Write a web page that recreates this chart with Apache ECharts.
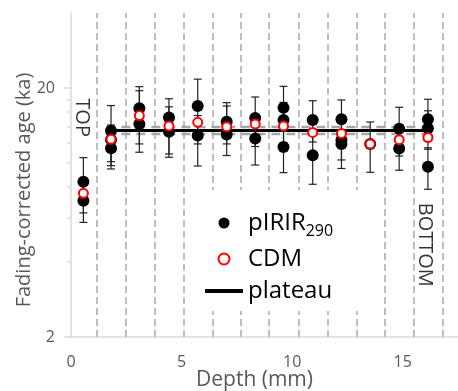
<!DOCTYPE html>
<html><head><meta charset="utf-8">
<script src="https://cdn.jsdelivr.net/npm/echarts@6/dist/echarts.min.js"></script>
<style>html,body{margin:0;padding:0;background:#fff}#c{width:458px;height:391px}</style>
</head><body><div id="c"></div>
<script>
// slice centre depths (mm) and slice boundaries (mm)
const sliceDepth = [0.56, 1.81, 3.09, 4.43, 5.73, 7.04, 8.33, 9.61, 10.93, 12.23, 13.53, 14.84, 16.14];
const sliceBounds = [1.16, 2.48, 3.77, 5.08, 6.39, 7.69, 8.96, 10.30, 11.6, 12.9, 14.2, 15.49, 16.79];
// pIRIR290 aliquots: slice index, age (ka), lower and upper error bar ends (ka)
const aliquotSlice = [0,0, 1,1,1, 2,2, 3,3, 4,4, 5,5, 6,6, 7,7,7, 8,8, 9,9,9, 10, 11,11, 12,12,12];
const aliquotAge   = [8.41,7.05, 13.48,12.4,11.45, 16.58,14.34, 15.22,13.35, 16.93,12.89, 14.64,13.02, 15.16,12.53, 16.67,14.88,11.59, 14.88,10.74, 14.97,12.37,11.92, 11.92, 13.73,11.43, 14.97,13.77,9.66];
const aliquotLow   = [6.3,5.77, 10.12,9.75,9.46, 11.92,11.04, 10.54,10.86, 11.92,9.72, 10.71,11.92, 11.64,9.81, 13.4,12.0,9.14, 12.14,8.21, 12.4,9.5,10.28, 9.17, 10.66,9.35, 12.5,11.35,7.84];
const aliquotHigh  = [10.5,8.33, 17.0,14.2,13.4, 20.24,19.5, 18.1,16.8, 21.7,15.5, 17.46,16.93, 18.4,15.2, 20.3,17.5,14.0, 17.77,13.3, 17.9,14.9,13.6, 14.6, 16.73,13.5, 18.02,16.2,11.5];
// CDM age per slice
const cdmAge = [7.55, 12.44, 15.5, 14.08, 14.56, 13.98, 14.34, 14.08, 13.26, 13.14, 11.92, 12.40, 12.65];
// plateau
const plateauAge = 13.5, plateauLow = 13.08, plateauHigh = 13.93;
const plateauFrom = 1.6, plateauTo = 16.25;
// axis ticks
const yLabelValues = [2, 20];
const yMinorTicks = [4, 6, 8, 10, 12, 14, 16, 18];
// annotations
const noteText = ['TOP', 'BOTTOM'];
const noteDepth = [0.5, 16.0];
const noteAge = [15.2, 4.69];

const FONT = 'Open Sans';
const chart = echarts.init(document.getElementById('c'));

const aliquotPoints = aliquotAge.map((a, i) => [sliceDepth[aliquotSlice[i]], a]);
const errorData = aliquotAge.map((a, i) => [sliceDepth[aliquotSlice[i]], aliquotLow[i], aliquotHigh[i]]);
const cdmPoints = cdmAge.map((a, i) => [sliceDepth[i], a]);
const notePoints = noteText.map((t, i) => ({value: [noteDepth[i], noteAge[i]], name: t}));

chart.setOption({
  animation: false,
  grid: {left: 71, right: 0, top: 13, bottom: 54, outerBoundsMode: 'none', containLabel: false},
  legend: {
    data: ['pIRIR290', 'CDM', {name: 'plateau', itemStyle: {opacity: 0}, lineStyle: {width: 4, color: '#000'}}],
    orient: 'vertical',
    left: 200, top: 190,
    backgroundColor: '#fff',
    padding: [21, 30, 8, 3],
    itemWidth: 38, itemHeight: 11, itemGap: 8,
    formatter: n => n === 'pIRIR290' ? '{m|pIRIR}{s|290}' : '{m|' + n + '}',
    textStyle: {
      rich: {
        m: {fontFamily: FONT, fontSize: 24, color: '#000', lineHeight: 32},
        s: {fontFamily: FONT, fontSize: 16, color: '#000', lineHeight: 17, verticalAlign: 'bottom'}
      }
    }
  },
  xAxis: {
    type: 'value', min: 0, max: 17.5, interval: 5,
    axisLine: {onZero: false, lineStyle: {color: '#d9d9d9', width: 1.5}},
    axisTick: {show: false},
    splitLine: {show: false},
    axisLabel: {showMaxLabel: false, color: '#595959', fontSize: 16, fontFamily: FONT, margin: 17},
    name: 'Depth (mm)', nameLocation: 'middle', nameGap: 33, nameMoveOverlap: false,
    nameTextStyle: {color: '#595959', fontSize: 21, fontFamily: FONT, padding: [0, 20, 0, 0]}
  },
  yAxis: [{
    type: 'log', logBase: 10, min: 2, max: 40,
    axisLine: {show: true, lineStyle: {color: '#d9d9d9', width: 1.5}},
    axisTick: {show: true, customValues: yLabelValues, length: 7, lineStyle: {color: '#d9d9d9', width: 1.5}},
    axisLabel: {customValues: yLabelValues, color: '#595959', fontSize: 16, fontFamily: FONT, margin: 16},
    splitLine: {show: false},
    name: 'Fading-corrected age (ka)', nameLocation: 'middle', nameGap: 37, nameRotate: 90, nameMoveOverlap: false,
    nameTextStyle: {color: '#595959', fontSize: 20, fontFamily: FONT, padding: [0, 30, 0, 0]}
  }, {
    type: 'log', logBase: 10, min: 2, max: 40, position: 'left',
    axisLine: {show: false},
    axisTick: {show: true, customValues: yMinorTicks, length: 4, lineStyle: {color: '#d9d9d9', width: 1.5}},
    axisLabel: {show: false},
    splitLine: {show: false}
  }],
  series: [
    {
      name: 'plateauLo', type: 'line', symbol: 'none', z: 2, silent: true,
      data: [[plateauFrom, plateauLow], [plateauTo, plateauLow]],
      lineStyle: {color: '#a6a6a6', width: 2.5, type: [9, 6]},
      markLine: {
        silent: true, z: 1, symbol: ['none', 'none'], label: {show: false},
        lineStyle: {color: '#bfbfbf', width: 2, type: [7, 4]},
        data: sliceBounds.map(b => ({xAxis: b}))
      }
    },
    {
      name: 'plateauHi', type: 'line', symbol: 'none', z: 2, silent: true,
      data: [[plateauFrom, plateauHigh], [plateauTo, plateauHigh]],
      lineStyle: {color: '#a6a6a6', width: 2.5, type: [9, 6]}
    },
    {
      name: 'plateau', type: 'line', symbol: 'none', z: 3,
      data: [[plateauFrom, plateauAge], [plateauTo, plateauAge]],
      lineStyle: {color: '#000', width: 3}, itemStyle: {color: '#000'}
    },
    {
      name: 'errors', type: 'custom', z: 4, silent: true,
      data: errorData,
      encode: {x: 0, y: [1, 2]},
      renderItem: (params, api) => {
        const x = api.value(0);
        const p1 = api.coord([x, api.value(1)]);
        const p2 = api.coord([x, api.value(2)]);
        const cap = 4;
        const st = {stroke: '#222', lineWidth: 1.2};
        return {type: 'group', children: [
          {type: 'line', shape: {x1: p1[0], y1: p1[1], x2: p2[0], y2: p2[1]}, style: st},
          {type: 'line', shape: {x1: p1[0] - cap, y1: p1[1], x2: p1[0] + cap, y2: p1[1]}, style: st},
          {type: 'line', shape: {x1: p2[0] - cap, y1: p2[1], x2: p2[0] + cap, y2: p2[1]}, style: st}
        ]};
      }
    },
    {
      name: 'pIRIR290', type: 'scatter', z: 5, symbol: 'circle', symbolSize: 12,
      data: aliquotPoints, itemStyle: {color: '#000', opacity: 1}
    },
    {
      name: 'CDM', type: 'scatter', z: 6, symbol: 'circle', symbolSize: 9,
      data: cdmPoints, itemStyle: {color: '#fff', borderColor: '#ff0000', borderWidth: 2, opacity: 1}
    },
    {
      name: 'notes', type: 'scatter', z: 6, symbolSize: 0, silent: true,
      data: notePoints,
      label: {show: true, position: 'inside', rotate: -90, formatter: p => p.name,
        color: '#000', fontSize: 20, fontFamily: FONT}
    }
  ]
});
</script></body></html>
